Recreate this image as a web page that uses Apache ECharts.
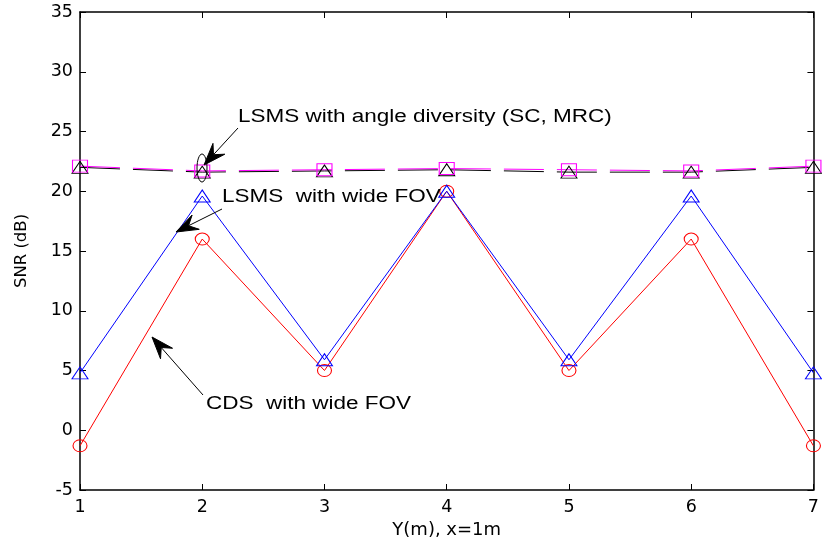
<!DOCTYPE html>
<html>
<head>
<meta charset="utf-8">
<script src="https://cdn.jsdelivr.net/npm/echarts@6/dist/echarts.min.js"></script>
<style>
html,body{margin:0;padding:0;background:#fff;}
#c{width:822px;height:544px;}
</style>
</head>
<body>
<div id="c"></div>
<script>
var xValues = [1, 2, 3, 4, 5, 6, 7];
var cdsWide = [-1.3, 16, 5, 20, 5, 16, -1.3];
var lsmsWide = [4.8, 19.6, 5.9, 20.0, 5.9, 19.6, 4.8];
var lsmsSC = [22.0, 21.6, 21.7, 21.8, 21.6, 21.6, 22.0];
var lsmsMRC = [22.1, 21.7, 21.8, 21.9, 21.8, 21.7, 22.1];
var yTicks = [-5, 35, 5];

var FONT = 'DejaVu Sans';
function pairs(ys){ return xValues.map(function(x,i){ return [x, ys[i]]; }); }
function mkSeries(name, ys, color, symbol, size, dashed){
  return {
    name: name, type: 'line', data: pairs(ys),
    symbol: symbol, symbolSize: size, showSymbol: true,
    lineStyle: { color: color, width: 1, type: dashed ? [40, 13] : 'solid' },
    itemStyle: { color: 'rgba(0,0,0,0)', borderColor: color, borderWidth: 1 },
    emphasis: { disabled: true }, animation: false, z: 3
  };
}
var axisBase = {
  type: 'value', min: yTicks[0], max: yTicks[1], interval: yTicks[2],
  axisLine: { show: true, onZero: false, lineStyle: { color: '#000', width: 1.5 } },
  axisTick: { show: true, inside: true, length: 6, lineStyle: { color: '#000' } },
  splitLine: { show: false }
};
var chart = echarts.init(document.getElementById('c'), null, { renderer: 'canvas' });
chart.setOption({
  animation: false,
  backgroundColor: '#fff',
  grid: { left: 80, top: 12, right: 5, bottom: 54, containLabel: false },
  xAxis: [
    { type: 'value', min: 1, max: 7, interval: 1, position: 'bottom',
      name: 'Y(m), x=1m', nameLocation: 'middle', nameGap: 24,
      nameTextStyle: { fontFamily: FONT, fontSize: 18, color: '#000' },
      axisLine: { show: true, onZero: false, lineStyle: { color: '#000', width: 1.5 } },
      axisTick: { show: true, inside: true, length: 6, lineStyle: { color: '#000' } },
      axisLabel: { fontFamily: FONT, fontSize: 17.5, color: '#000', margin: 8 },
      splitLine: { show: false } },
    { type: 'value', min: 1, max: 7, interval: 1, position: 'top',
      axisLine: { show: true, onZero: false, lineStyle: { color: '#000', width: 1.5 } },
      axisTick: { show: true, inside: true, length: 6, lineStyle: { color: '#000' } },
      axisLabel: { show: false }, splitLine: { show: false } }
  ],
  yAxis: [
    Object.assign({}, axisBase, { position: 'left',
      name: 'SNR (dB)', nameLocation: 'middle', nameGap: 50,
      nameTextStyle: { fontFamily: FONT, fontSize: 16.5, color: '#000' },
      axisLabel: { fontFamily: FONT, fontSize: 17.5, color: '#000', margin: 7 } }),
    Object.assign({}, axisBase, { position: 'right', axisLabel: { show: false } })
  ],
  series: [
    mkSeries('CDS with wide FOV', cdsWide, '#ff0000', 'circle', [14, 12], false),
    mkSeries('LSMS with wide FOV', lsmsWide, '#0000ff', 'triangle', [16, 12], false),
    mkSeries('LSMS with angle diversity (SC)', lsmsSC, '#000000', 'triangle', [16, 12], true),
    mkSeries('LSMS with angle diversity (MRC)', lsmsMRC, '#ff00ff', 'rect', [15, 12], true)
  ]
});

function arrow(x1, y1, x2, y2){
  var dx = x2 - x1, dy = y2 - y1, L = Math.sqrt(dx*dx + dy*dy);
  var ux = dx / L, uy = dy / L, px = -uy, py = ux;
  var hl = 22, hw = 8, notch = 14;
  var bx = x2 - ux*hl, by = y2 - uy*hl;
  var nx = x2 - ux*notch, ny = y2 - uy*notch;
  return [
    { type: 'line', shape: { x1: x1, y1: y1, x2: nx, y2: ny }, style: { stroke: '#000', lineWidth: 1 }, z: 10 },
    { type: 'polygon', shape: { points: [[x2, y2], [bx + px*hw, by + py*hw], [nx, ny], [bx - px*hw, by - py*hw]] },
      style: { fill: '#000', stroke: '#000', lineWidth: 1 }, z: 10 }
  ];
}
function label(text, x, y){
  return { type: 'text', x: x, y: y, z: 10, scaleX: 1.25,
    style: { text: text, fontFamily: 'Liberation Sans', fontSize: 18, fill: '#000', verticalAlign: 'middle', align: 'left' } };
}
var g = [];
g.push(label('LSMS with angle diversity (SC, MRC)', 238, 117));
g.push(label('LSMS  with wide FOV', 222, 197));
g.push(label('CDS  with wide FOV', 206, 404));
g = g.concat(arrow(238, 128, 204, 165));
g = g.concat(arrow(222, 209, 176, 232));
g = g.concat(arrow(203, 395, 152, 337));
g.push({ type: 'ellipse', shape: { cx: 202, cy: 168, rx: 5, ry: 14 }, style: { fill: 'none', stroke: '#000', lineWidth: 1 }, z: 10 });
chart.setOption({ graphic: g });
</script>
</body>
</html>
